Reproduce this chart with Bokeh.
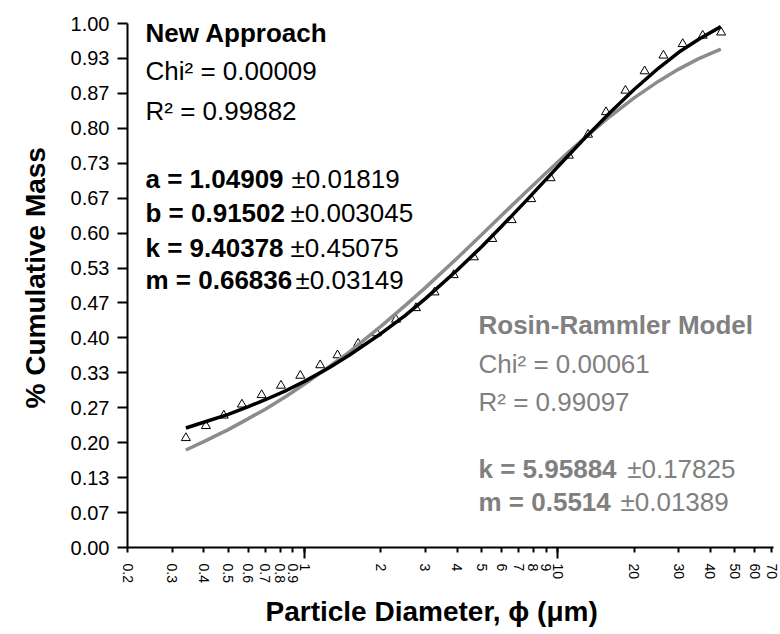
import math
from bokeh.plotting import figure
from bokeh.models import Range1d, FixedTicker, Label, PrintfTickFormatter, Title
from bokeh.embed import file_html
from bokeh.resources import INLINE

# ---------------- data ----------------
diameter_um = [0.340, 0.408, 0.480, 0.566, 0.677, 0.807, 0.962, 1.153, 1.349, 1.627,
               1.926, 2.296, 2.753, 3.26, 3.88, 4.66, 5.51, 6.57, 7.85, 9.36,
               11.05, 13.16, 15.49, 18.48, 22.0, 26.1, 31.1, 37.3, 44.1]
cum_mass = [0.209, 0.232, 0.252, 0.273, 0.291, 0.309, 0.328, 0.348, 0.367, 0.389,
            0.409, 0.435, 0.457, 0.487, 0.520, 0.554, 0.589, 0.625, 0.665, 0.705,
            0.748, 0.788, 0.831, 0.872, 0.909, 0.939, 0.961, 0.977, 0.983]

fit_x = [0.34, 0.4, 0.5, 0.6, 0.7, 0.85, 1.0, 1.25, 1.5, 2, 2.5, 3, 4, 5, 6, 7.5,
         9, 11, 13, 16, 20, 25, 30, 36, 44]
new_approach_y = [0.228, 0.239, 0.254, 0.269, 0.282, 0.300, 0.317, 0.343, 0.367, 0.408,
                  0.443, 0.475, 0.529, 0.574, 0.613, 0.662, 0.703, 0.748, 0.785, 0.829,
                  0.874, 0.915, 0.945, 0.970, 0.994]
rosin_rammler_y = [0.186, 0.202, 0.225, 0.246, 0.264, 0.289, 0.312, 0.345, 0.373, 0.422,
                   0.462, 0.496, 0.552, 0.597, 0.634, 0.679, 0.715, 0.754, 0.785, 0.822,
                   0.858, 0.890, 0.913, 0.933, 0.951]

x_tick_values = [0.2, 0.3, 0.4, 0.5, 0.6, 0.7, 0.8, 0.9, 1, 2, 3, 4, 5, 6, 7, 8, 9, 10,
                 20, 30, 40, 50, 60, 70]
x_tick_labels = ["0.2", "0.3", "0.4", "0.5", "0.6", "0.7", "0.8", "0.9", "1", "2", "3",
                 "4", "5", "6", "7", "8", "9", "10", "20", "30", "40", "50", "60", "70"]
x_decades = [1, 10]
y_tick_values = [0/15, 1/15, 2/15, 3/15, 4/15, 5/15, 6/15, 7/15, 8/15, 9/15, 10/15,
                 11/15, 12/15, 13/15, 14/15, 15/15]

# ---------------- layout ----------------
W, H = 780, 634
ML, MR, MT, MB = 127, 7, 23, 87
X0, X1 = 0.2, 71.0
FW, FH = W - ML - MR, H - MT - MB
FONT = "Liberation Sans"


def px2x(px):
    lo, hi = math.log10(X0), math.log10(X1)
    return 10 ** (lo + (px - ML) / FW * (hi - lo))


def px2y(py):
    return (MT + FH - py) / FH


p = figure(width=W, height=H, x_axis_type="log",
           x_range=Range1d(X0, X1), y_range=Range1d(0, 1),
           output_backend="svg", toolbar_location=None,
           min_border_left=ML, min_border_right=MR,
           min_border_top=MT, min_border_bottom=MB)
p.outline_line_color = None
p.xgrid.visible = False
p.ygrid.visible = False
p.background_fill_color = "white"
p.border_fill_color = "white"

# data points (drawn first, lines on top)
p.scatter(diameter_um, cum_mass, marker="triangle", size=9,
          fill_color="white", line_color="black", line_width=1)
p.line(fit_x, rosin_rammler_y, line_color="#8c8c8c", line_width=3.5)
p.line(fit_x, new_approach_y, line_color="black", line_width=3.5)

# x axis
xa = p.xaxis[0]
xa.ticker = FixedTicker(ticks=x_tick_values, minor_ticks=x_decades)
xa.major_label_overrides = {v: s for v, s in zip(x_tick_values, x_tick_labels)}
xa.major_label_orientation = "vertical"
xa.axis_line_width = 2
xa.axis_line_color = "black"
xa.major_tick_line_width = 2
xa.minor_tick_line_width = 2
xa.major_tick_in = 0
xa.major_tick_out = 5
xa.minor_tick_in = 0
xa.minor_tick_out = 11
xa.major_label_standoff = 5
xa.major_label_text_font = FONT
xa.major_label_text_font_size = "14px"
xa.major_label_text_color = "black"

# y axis
ya = p.yaxis[0]
ya.ticker = FixedTicker(ticks=y_tick_values, minor_ticks=[])
ya.formatter = PrintfTickFormatter(format="%.2f")
ya.axis_line_width = 2
ya.axis_line_color = "black"
ya.major_tick_line_width = 2
ya.major_tick_in = 0
ya.major_tick_out = 10
ya.minor_tick_line_color = None
ya.major_label_standoff = 8
ya.major_label_text_font = FONT
ya.major_label_text_font_size = "20px"
ya.major_label_text_color = "black"

# axis titles (as side titles so they can sit off-centre like the reference)
xt = Title(text="Particle Diameter, \u03d5 (\u03bcm)", align="left", offset=138,
           text_font=FONT, text_font_size="28px", text_font_style="bold",
           text_color="black", standoff=16)
p.add_layout(xt, "below")
yt = Title(text="% Cumulative Mass", align="left", offset=139,
           text_font=FONT, text_font_size="28px", text_font_style="bold",
           text_color="black", standoff=33)
p.add_layout(yt, "left")


def add_text(text, px, py, color="black", bold=False, size="26px"):
    p.add_layout(Label(x=px2x(px), y=px2y(py), text=text, text_color=color,
                       text_font=FONT, text_font_size=size,
                       text_font_style="bold" if bold else "normal",
                       text_align="left", text_baseline="alphabetic"))


# New Approach block
add_text("New Approach", 145, 32.3, bold=True)
add_text("Chi\u00b2 = 0.00009", 145, 70.7)
add_text("R\u00b2 = 0.99882", 145, 110.7)
add_text("a = 1.04909", 145, 178.3, bold=True)
add_text("\u00b10.01819", 291, 178.3)
add_text("b = 0.91502", 145, 212.8, bold=True)
add_text("\u00b10.003045", 290, 212.8)
add_text("k = 9.40378", 145, 247, bold=True)
add_text("\u00b10.45075", 290, 247)
add_text("m = 0.66836", 145, 279.5, bold=True)
add_text("\u00b10.03149", 295, 279.5)

# Rosin-Rammler block
G = "#808080"
add_text("Rosin-Rammler Model", 478, 324, color=G, bold=True)
add_text("Chi\u00b2 = 0.00061", 478, 363.3, color=G)
add_text("R\u00b2 = 0.99097", 478, 401.7, color=G)
add_text("k = 5.95884", 478, 468.3, color=G, bold=True)
add_text("\u00b10.17825", 626.7, 468.3, color=G)
add_text("m = 0.5514", 478, 501.7, color=G, bold=True)
add_text("\u00b10.01389", 620, 501.7, color=G)

open("out.html", "w").write(file_html(p, INLINE))
